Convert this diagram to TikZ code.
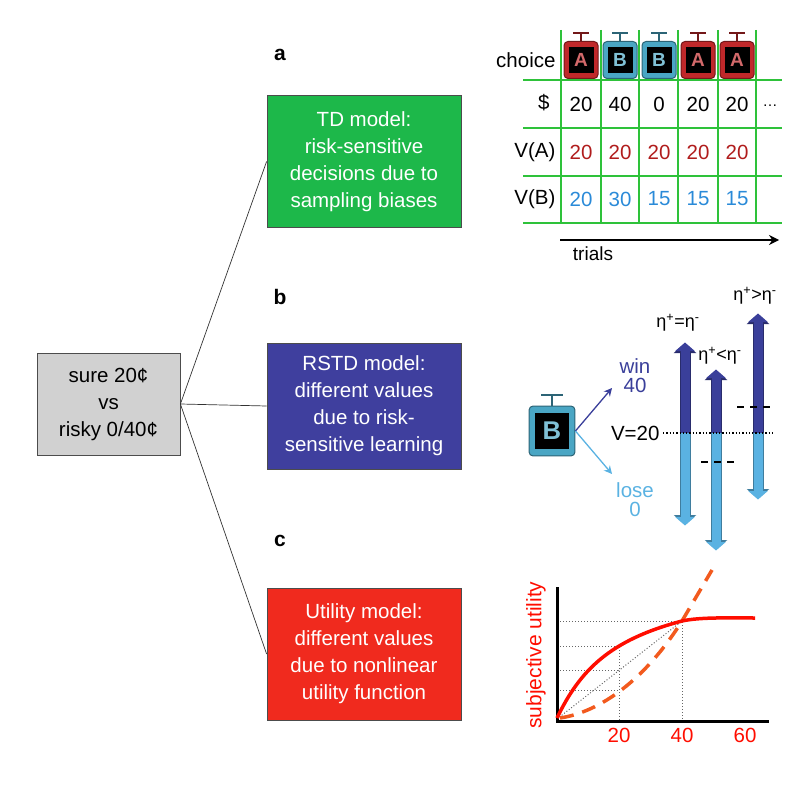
\documentclass[tikz,border=0pt]{standalone}
\usepackage{fontspec}
\setmainfont{Liberation Sans}
\usetikzlibrary{arrows.meta}
\definecolor{gbox}{HTML}{1DB84A}
\definecolor{bbox}{HTML}{3F3F9E}
\definecolor{rbox}{HTML}{F02A1E}
\definecolor{tgreen}{HTML}{2EC23A}
\definecolor{dred}{HTML}{B01C1C}
\definecolor{lblue}{HTML}{2A8AD8}
\definecolor{dblue}{HTML}{3A3F9A}
\definecolor{sblue}{HTML}{5AB2E2}
\definecolor{mred}{HTML}{C0282A}
\definecolor{mteal}{HTML}{4AA6C4}
\definecolor{orng}{HTML}{F25A1E}
\newcommand{\myslot}[6]{% name, x, y, color, letter, scale
  \pgfmathsetmacro\slotfs{19*#6}
  \begin{scope}[shift={(#2,#3)}, scale=#6]
  \draw[#4!60!black, line width=2pt] (0,-18) -- (0,-27) (-8,-27) -- (8,-27);
  \end{scope}
  \node[draw=#4!60!black, fill=#4, rounded corners=4pt, minimum width=34*#6, minimum height=37*#6, line width=1pt] (#1) at (#2,#3) {};
  \node[fill=black, minimum width=25*#6, minimum height=26*#6, inner sep=0pt, text=#4!70!white, font=\bfseries\fontsize{\slotfs}{19}\selectfont] at (#2,#3) {#5};
}
\begin{document}
\begin{tikzpicture}[x=1pt,y=-1pt,
  box/.style={draw=black!70, line width=0.8pt, minimum width=194, minimum height=132, align=center, text=white, font=\fontsize{20.5}{27}\selectfont},
  tt/.style={font=\fontsize{20.5}{20}\selectfont},
  eta/.style={font=\fontsize{18}{18}\selectfont},
  lab/.style={font=\bfseries\fontsize{21}{21}\selectfont},
  dbl/.style={line width=9pt, -{Triangle[width=20pt,length=9pt]}}]
\useasboundingbox (0,0) rectangle (800,794);
% boxes
\node[box, fill=black!18, text=black, minimum width=143, minimum height=102] (src) at (108.5,404) {sure 20¢\\vs\\risky 0/40¢};
\node[box, fill=gbox] (td) at (364,161.5) {TD model:\\risk-sensitive\\decisions due to\\sampling biases};
\node[box, fill=bbox, minimum height=126] (rstd) at (364,406) {RSTD model:\\different values\\due to risk-\\sensitive learning};
\node[box, fill=rbox] (ut) at (364,654) {Utility model:\\different values\\due to nonlinear\\utility function};
\draw[black!80, line width=0.7pt] (src.east) -- (td.west);
\draw[black!80, line width=0.7pt] (src.east) -- (rstd.west);
\draw[black!80, line width=0.7pt] (src.east) -- (ut.west);
\node[lab] (la) at (280,55) {a};
\node[lab] (lb) at (280,297) {b};
\node[lab] (lc) at (280,541) {c};
% table
\foreach \x in {561,601,639,678,718,756} \draw[tgreen, line width=1.5pt] (\x,30) -- (\x,223);
\foreach \y in {80,128,176,223} \draw[tgreen, line width=1.5pt] (523,\y) -- (782,\y);
\node[tt, anchor=east] (rc) at (559,60) {choice};
\node[tt, anchor=east] (rd) at (553,103) {\$};
\node[tt, anchor=east] (ra) at (559,152) {V(A)};
\node[tt, anchor=east] (rb) at (559,199) {V(B)};
\myslot{s1}{581}{60}{mred}{A}{1}
\myslot{s2}{620}{60}{mteal}{B}{1}
\myslot{s3}{659}{60}{mteal}{B}{1}
\myslot{s4}{698}{60}{mred}{A}{1}
\myslot{s5}{737}{60}{mred}{A}{1}
\foreach \x/\v [count=\i] in {581/20,620/40,659/0,698/20,737/20} \node[tt] (d\i) at (\x,104) {\v};
\node[tt] (dots) at (770,106) {\fontsize{15}{15}\selectfont\dots};
\foreach \x [count=\i] in {581,620,659,698,737} \node[tt, text=dred] (a\i) at (\x,152) {20};
\foreach \x/\v [count=\i] in {581/20,620/30,659/15,698/15,737/15} \node[tt, text=lblue] (b\i) at (\x,199) {\v};
\coordinate (t0) at (560,240); \coordinate (t1) at (779,240);
\draw[line width=1.3pt, -{Stealth[length=10pt,width=10pt]}] (t0) -- (t1);
\node[tt, font=\fontsize{19}{19}\selectfont] (trials) at (593,254) {trials};
% panel b
\myslot{sb}{552}{431}{mteal}{B}{1.35}
\node[tt, text=dblue, align=center] (wint) at (635,376) {win\\[-1pt]40};
\node[tt, text=sblue, align=center] (lose) at (635,500) {lose\\[-1pt]0};
\draw[dblue, line width=1.3pt, -{Stealth[length=8pt,width=8pt]}] (sb.east) -- (612,388);
\draw[sblue, line width=1.3pt, -{Stealth[length=8pt,width=8pt]}] (sb.east) -- (612,474);
\node[tt, anchor=east] (v20) at (663,433) {V=20};
\foreach \x/\t/\b [count=\i] in {685/343/525,716/370/550,758/314/499}{
  \draw[dbl, draw=dblue!70!black, line width=11pt, -{Triangle[width=22pt,length=10pt]}] (\x,433) -- (\x,\t);
  \draw[dbl, draw=sblue!70!black, line width=11pt, -{Triangle[width=22pt,length=10pt]}] (\x,433) -- (\x,\b);
  \draw[dbl, draw=dblue, -{Triangle[width=19pt,length=8.5pt]}] (\x,433) -- (\x,\t-0.5);
  \draw[dbl, draw=sblue, -{Triangle[width=19pt,length=8.5pt]}] (\x,433) -- (\x,\b+0.5);
}
\draw[line width=1.3pt, dotted] (v20.east) -- (773,433);
\draw[line width=1.3pt, dash pattern=on 7pt off 6pt] (701,462) -- (738,462);
\draw[line width=1.3pt, dash pattern=on 7pt off 6pt] (737,407) -- (773,407);
\node[eta] (e1) at (678,323) {η\textsuperscript{+}=η\textsuperscript{-}};
\node[eta] (e2) at (720,356) {η\textsuperscript{+}<η\textsuperscript{-}};
\node[eta] (e3) at (755,296) {η\textsuperscript{+}>η\textsuperscript{-}};
% panel c
\draw[black!60, line width=1pt, dotted] (557,621) -- (682,621) -- (682,720);
\draw[black!60, line width=1pt, dotted] (557,646) -- (619,646) -- (619,720);
\draw[black!60, line width=1pt, dotted] (557,670) -- (619,670);
\draw[black!60, line width=1pt, dotted] (557,690) -- (619,690);
\draw[black!60, line width=1pt, dotted] (557,719) -- (682,621);
\draw[line width=3pt] (557,587) -- (557,721) -- (769,721);
\draw[orng, line width=3.5pt, dash pattern=on 14pt off 9pt] (560,718) .. controls (600,712) and (645,680) .. (682,621) -- (712,570);
\draw[red!90!orange, line width=3.5pt] (557,718) .. controls (580,670) and (610,640) .. (682,621) .. controls (700,617) and (730,618) .. (755,618);
\node[tt, text=red!90!orange, font=\fontsize{21}{21}\selectfont, rotate=90] (yl) at (536,655) {subjective utility};
\node[tt, text=red!90!orange] (x20) at (619,735) {20};
\node[tt, text=red!90!orange] (x40) at (682,735) {40};
\node[tt, text=red!90!orange] (x60) at (745,735) {60};
\end{tikzpicture}
\end{document}
